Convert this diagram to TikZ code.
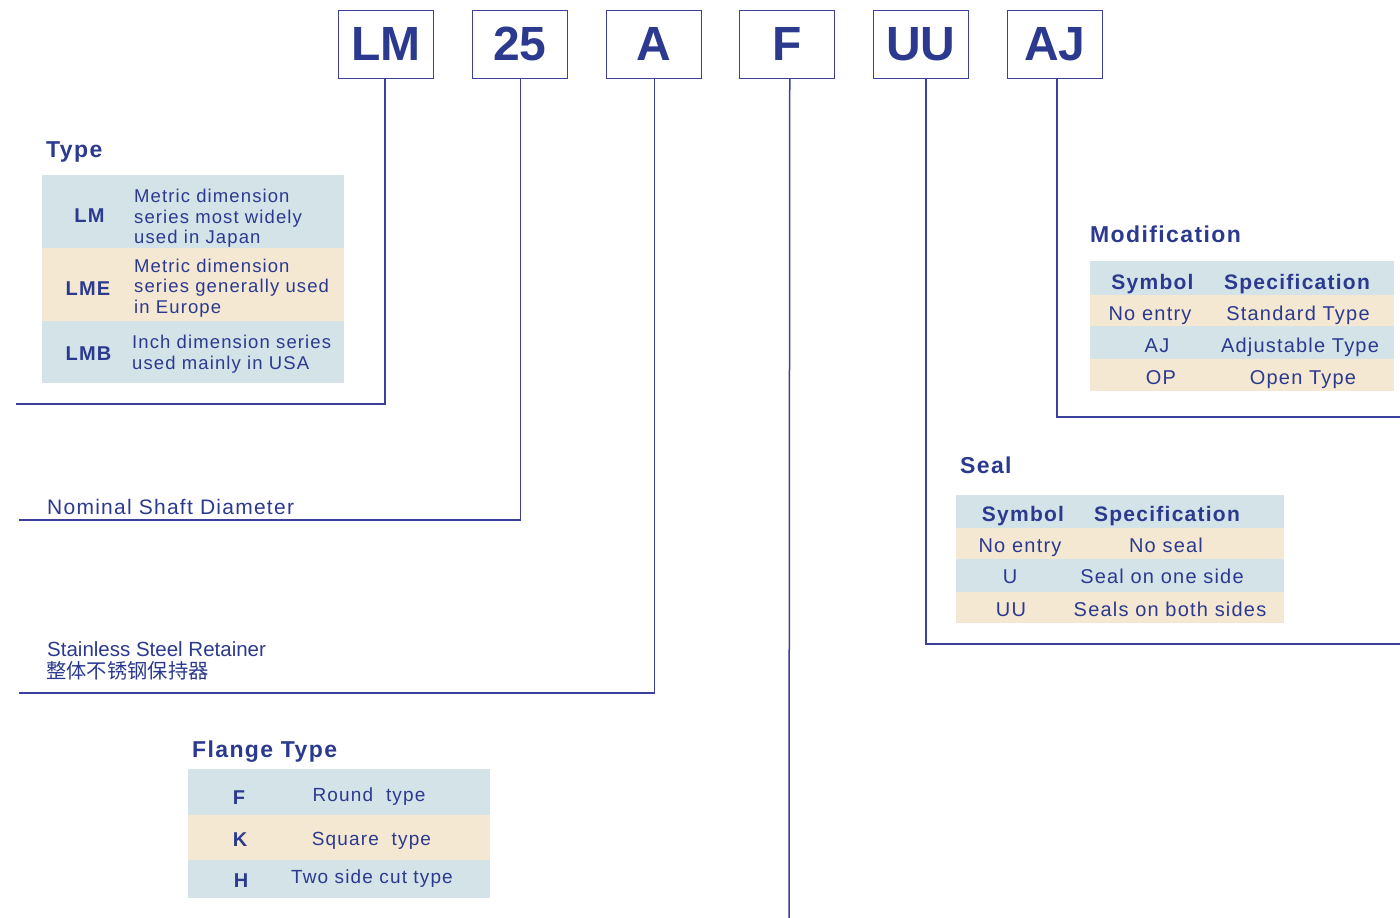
\documentclass[tikz,border=0pt]{standalone}
\usepackage{fontspec}
\setmainfont{Liberation Sans}
\newfontfamily\spfont[LetterSpace=6]{Liberation Sans}
\newfontfamily\cjkfont{Noto Sans CJK SC}
\definecolor{ink}{HTML}{2B3A8F}
\definecolor{rulec}{HTML}{3C3F9C}
\definecolor{rowb}{HTML}{D3E3E8}
\definecolor{rowy}{HTML}{F4E8D3}
\tikzset{
  codebox/.style={draw=rulec, line width=1.5, minimum width=95, minimum height=68, inner sep=0, anchor=north west, text=ink, font=\bfseries\fontsize{48}{48}\selectfont},
  conn/.style={draw=rulec, line width=1.5},
  rowfill/.style={inner sep=0, anchor=north west, draw=none},
  ttl/.style={anchor=base west, inner sep=0, text=ink, font=\spfont\bfseries\fontsize{23}{23}\selectfont},
  lbl/.style={anchor=base, inner sep=0, text=ink, font=\spfont\bfseries\fontsize{20}{20}\selectfont},
  hdr/.style={anchor=base, inner sep=0, text=ink, font=\spfont\bfseries\fontsize{21}{21}\selectfont},
  txt/.style={anchor=base west, inner sep=0, text=ink, font=\spfont\fontsize{18.5}{21}\selectfont},
  ctxt/.style={anchor=base, inner sep=0, text=ink, font=\spfont\fontsize{20}{22}\selectfont},
}
\begin{document}
\begin{tikzpicture}[x=1pt, y=-1pt]
\useasboundingbox (0,0) rectangle (1400,918);

% code boxes
\node[codebox] (lm) at (337.5,9.5) {LM};
\node[codebox] (n25) at (471.5,9.5) {25};
\node[codebox] (a) at (605.5,9.5) {A};
\node[codebox] (f) at (738.5,9.5) {F};
\node[codebox] (uu) at (872.5,9.5) {UU};
\node[codebox] (aj) at (1006.5,9.5) {AJ};

% connector ends
\coordinate (lmend) at (16,404);
\coordinate (n25end) at (19,520);
\coordinate (aend) at (19,693);
\coordinate (fend) at (789,918);
\coordinate (uuend) at (1400,644);
\coordinate (ajend) at (1400,417);

\draw[conn] ([xshift=-1]lm.south) |- (lmend);
\draw[conn] ([xshift=0.5]n25.south) |- (n25end);
\draw[conn] ([xshift=0.5]a.south) |- (aend);
\draw[conn] ([xshift=3]f.south) -- (fend);
\draw[conn] ([xshift=5]uu.south) |- (uuend);
\draw[conn] ([xshift=2]aj.south) |- (ajend);

% Type
\node[ttl] (ttype) at (46,157) {Type};
\node[rowfill, fill=rowb, minimum width=302, minimum height=73] (tr1) at (42,175) {};
\node[rowfill, fill=rowy, minimum width=302, minimum height=73] (tr2) at (42,248) {};
\node[rowfill, fill=rowb, minimum width=302, minimum height=62] (tr3) at (42,321) {};
\node[lbl] (tlm) at (89.5,222) {LM};
\node[lbl] (tlme) at (88,295) {LME};
\node[lbl] (tlmb) at (88.5,360) {LMB};
\node[txt] (d11) at (134,202) {Metric dimension};
\node[txt] (d12) at (134,223) {series most widely};
\node[txt] (d13) at (134,243) {used in Japan};
\node[txt] (d21) at (134,272) {Metric dimension};
\node[txt] (d22) at (134,292) {series generally used};
\node[txt] (d23) at (134,313) {in Europe};
\node[txt] (d31) at (132,348) {Inch dimension series};
\node[txt] (d32) at (132,369) {used mainly in USA};

% Nominal shaft diameter
\node[txt, font=\spfont\fontsize{21}{23}\selectfont] (nsd) at (47,514) {Nominal Shaft Diameter};

% Stainless steel retainer
\node[anchor=base west, inner sep=0, text=ink, font=\fontsize{20.5}{22}\selectfont] (ssr) at (47,656) {Stainless Steel Retainer};
\node[anchor=base west, inner sep=0, text=ink, font=\cjkfont\fontsize{20.3}{22}\selectfont] (ssrc) at (46,678) {整体不锈钢保持器};

% Flange type
\node[ttl] (tflange) at (192,757) {Flange Type};
\node[rowfill, fill=rowb, minimum width=302, minimum height=46] (fr1) at (188,769) {};
\node[rowfill, fill=rowy, minimum width=302, minimum height=45] (fr2) at (188,815) {};
\node[rowfill, fill=rowb, minimum width=302, minimum height=38] (fr3) at (188,860) {};
\node[lbl] (ff) at (239,804) {F};
\node[lbl] (fk) at (240,846) {K};
\node[lbl] (fh) at (241,887) {H};
\node[ctxt, font=\spfont\fontsize{19}{21}\selectfont] (fdf) at (369,801) {Round\ \ type};
\node[ctxt, font=\spfont\fontsize{19}{21}\selectfont] (fdk) at (371.5,845) {Square\ \ type};
\node[ctxt, font=\spfont\fontsize{19}{21}\selectfont] (fdh) at (372,883) {Two side cut type};

% Modification
\node[ttl] (tmod) at (1090,242) {Modification};
\node[rowfill, fill=rowb, minimum width=304, minimum height=34] (mr0) at (1090,261) {};
\node[rowfill, fill=rowy, minimum width=304, minimum height=31] (mr1) at (1090,295) {};
\node[rowfill, fill=rowb, minimum width=304, minimum height=33] (mr2) at (1090,326) {};
\node[rowfill, fill=rowy, minimum width=304, minimum height=32] (mr3) at (1090,359) {};
\node[hdr] (mh1) at (1152.5,289) {Symbol};
\node[hdr] (mh2) at (1297,289) {Specification};
\node[ctxt] (m11) at (1150,320) {No entry};
\node[ctxt] (m12) at (1298,320) {Standard Type};
\node[ctxt] (m21) at (1157,352) {AJ};
\node[ctxt] (m22) at (1300,352) {Adjustable Type};
\node[ctxt] (m31) at (1161,384) {OP};
\node[ctxt] (m32) at (1303,384) {Open Type};

% Seal
\node[ttl] (tseal) at (960,473) {Seal};
\node[rowfill, fill=rowb, minimum width=328, minimum height=33] (sr0) at (956,495) {};
\node[rowfill, fill=rowy, minimum width=328, minimum height=31] (sr1) at (956,528) {};
\node[rowfill, fill=rowb, minimum width=328, minimum height=33] (sr2) at (956,559) {};
\node[rowfill, fill=rowy, minimum width=328, minimum height=31] (sr3) at (956,592) {};
\node[hdr] (sh1) at (1023,521) {Symbol};
\node[hdr] (sh2) at (1167,521) {Specification};
\node[ctxt] (s11) at (1020,552) {No entry};
\node[ctxt] (s12) at (1166,552) {No seal};
\node[ctxt] (s21) at (1010,583) {U};
\node[ctxt] (s22) at (1162,583) {Seal on one side};
\node[ctxt] (s31) at (1011,616) {UU};
\node[ctxt] (s32) at (1170,616) {Seals on both sides};
\end{tikzpicture}
\end{document}
